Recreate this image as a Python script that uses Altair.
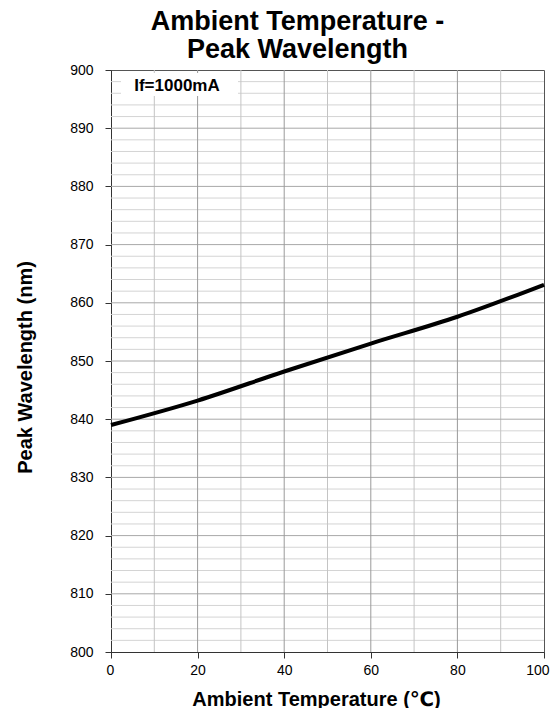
import altair as alt
import pandas as pd

# Data
temps = [0, 20, 40, 60, 80, 100]
wavelengths = [839.0, 843.2, 848.2, 853.0, 857.6, 863.1]

x_ticks = [0, 20, 40, 60, 80, 100]
x_minor = [10, 30, 50, 70, 90]
y_ticks = [800, 810, 820, 830, 840, 850, 860, 870, 880, 890, 900]
y_minor = [v for v in range(802, 900, 2) if v % 10 != 0]

FONT = "Liberation Sans, Arial, DejaVu Sans"

xs = alt.Scale(domain=[0, 100], nice=False, zero=False)
ys = alt.Scale(domain=[800, 900], nice=False, zero=False)

x_axis = alt.Axis(
    values=x_ticks,
    grid=False,
    title="Ambient Temperature (℃)",
    titleFont=FONT,
    titleFontSize=20,
    titleFontWeight="bold",
    titleColor="black",
    titleX=205,
    titleY=53,
    titleBaseline="alphabetic",
    labelFont=FONT,
    labelFontSize=14,
    labelColor="black",
    labelPadding=5,
    labelFlush=True,
    labelFlushOffset=5,
    tickSize=6,
    tickColor="#333333",
    domainColor="#333333",
)

y_axis = alt.Axis(
    values=y_ticks,
    grid=False,
    title="Peak Wavelength (nm)",
    titleFont=FONT,
    titleFontSize=20,
    titleFontWeight="bold",
    titleColor="black",
    titleX=-86,
    titleY=297,
    titleBaseline="middle",
    labelFont=FONT,
    labelFontSize=14,
    labelColor="black",
    labelPadding=12,
    labelFlush=False,
    tickSize=6,
    tickColor="#333333",
    domainColor="#333333",
)

line_df = pd.DataFrame({"t": temps, "w": wavelengths})

hminor = alt.Chart(pd.DataFrame({"w": y_minor})).mark_rule(
    color="#d4d4d4", strokeWidth=1
).encode(y=alt.Y("w:Q", scale=ys, axis=y_axis))

hmajor = alt.Chart(pd.DataFrame({"w": y_ticks[1:-1]})).mark_rule(
    color="#a8a8a8", strokeWidth=1
).encode(y=alt.Y("w:Q", scale=ys, axis=y_axis))

vminor = alt.Chart(pd.DataFrame({"t": x_minor})).mark_rule(
    color="#c4c4c4", strokeWidth=1
).encode(x=alt.X("t:Q", scale=xs, axis=x_axis))

vmajor = alt.Chart(pd.DataFrame({"t": x_ticks[1:-1]})).mark_rule(
    color="#9a9a9a", strokeWidth=1
).encode(x=alt.X("t:Q", scale=xs, axis=x_axis))

box = alt.Chart(pd.DataFrame({"a": [0]})).mark_rect(color="white").encode(
    x=alt.value(10), x2=alt.value(127), y=alt.value(3), y2=alt.value(26)
)

label = alt.Chart(pd.DataFrame({"txt": ["If=1000mA"]})).mark_text(
    font=FONT, fontSize=17, fontWeight="bold", color="black", align="center", baseline="middle"
).encode(x=alt.value(66), y=alt.value(16), text="txt:N")

line = alt.Chart(line_df).mark_line(color="black", strokeWidth=4, interpolate="monotone").encode(
    x=alt.X("t:Q", scale=xs, axis=x_axis),
    y=alt.Y("w:Q", scale=ys, axis=y_axis),
)

chart = alt.layer(hminor, vminor, hmajor, vmajor, box, label, line).properties(
    width=433,
    height=582,
    title=alt.TitleParams(
        text=["Ambient Temperature -", "Peak Wavelength"],
        font=FONT,
        fontSize=27,
        fontWeight="bold",
        color="black",
        lineHeight=28,
        anchor="middle",
        dx=-30,
        offset=-1,
    ),
    padding={"left": 103, "top": 62, "right": 7, "bottom": 56},
    autosize=alt.AutoSizeParams(type="none"),
).configure_view(stroke="#555555", strokeWidth=1)

chart.save("out.html", embed_options={"renderer": "svg", "actions": False})
